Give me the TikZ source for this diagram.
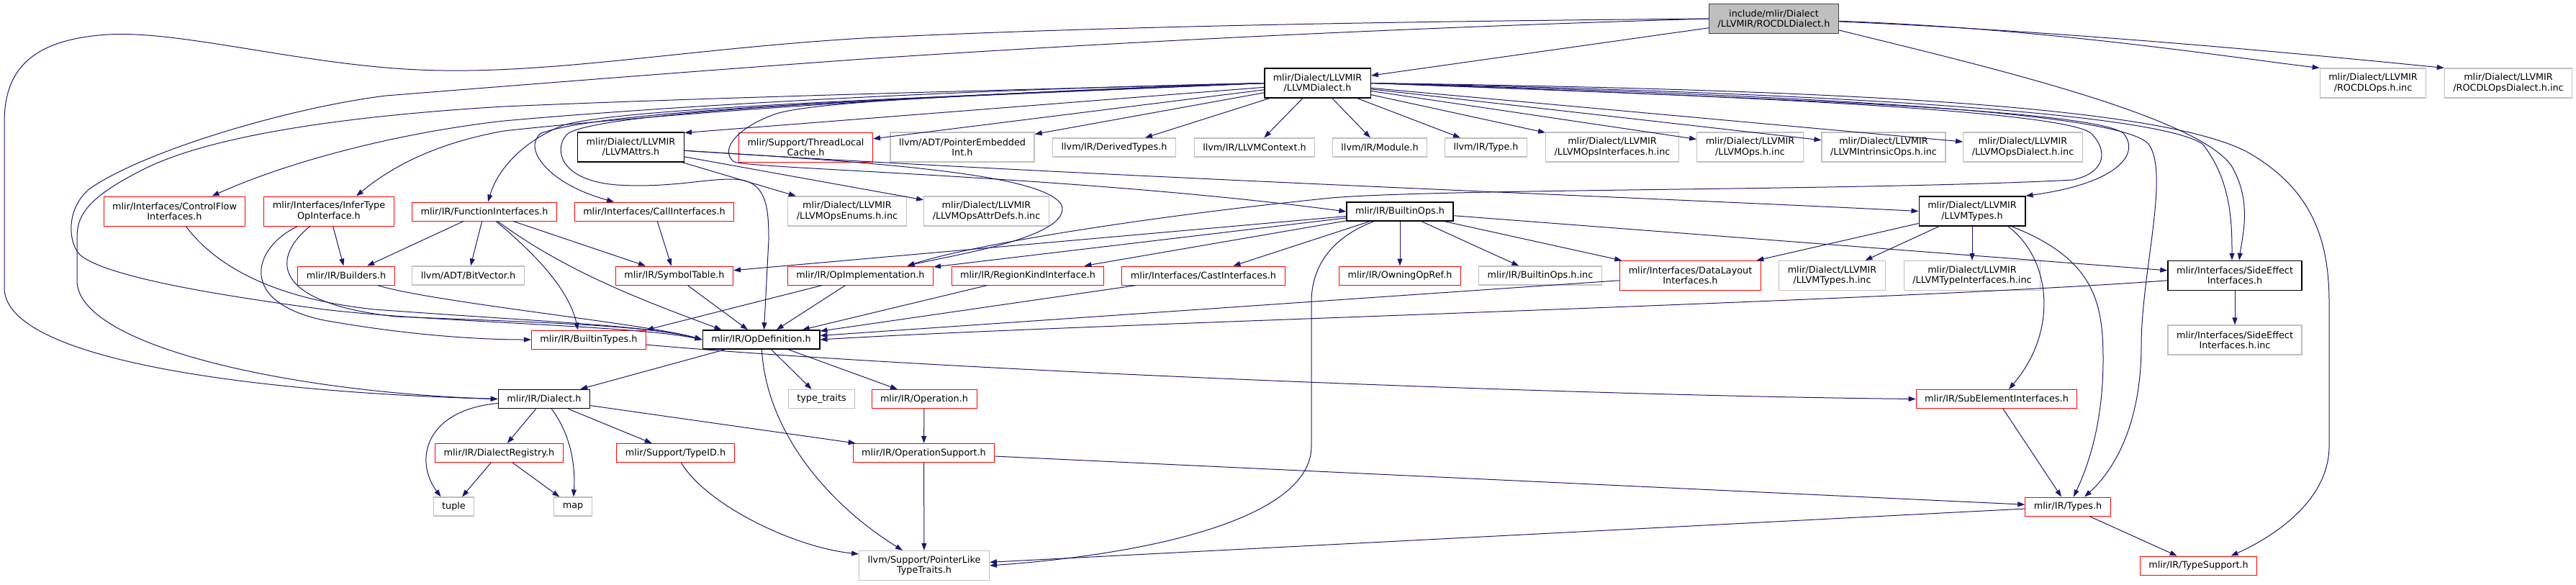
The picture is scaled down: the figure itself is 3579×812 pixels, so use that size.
\documentclass[tikz,border=0pt]{standalone}
\usepackage{fontspec}
\setmainfont{DejaVu Sans}
\usetikzlibrary{arrows.meta}
\definecolor{edgeblue}{HTML}{191970}
\definecolor{extgray}{HTML}{BFBFBF}
\definecolor{rootline}{HTML}{404040}

\begin{document}
\begin{tikzpicture}[x=1pt, y=-1pt, every node/.style={rectangle, draw, fill=white, align=center, inner xsep=12pt, inner ysep=0pt, minimum height=26pt, line width=1pt, font=\fontsize{12.8}{14.3}\selectfont},
	twoline/.style={minimum height=41pt},
	cutfile/.style={draw=red},
	extfile/.style={draw=extgray, line width=1.2pt},
	docfile/.style={draw=black, line width=1.5pt},
	rootfile/.style={fill=extgray, draw=rootline, line width=1.6pt},
	incl/.style={draw=edgeblue, line width=1pt, -{Triangle[length=10pt,width=7pt]}}]
			\useasboundingbox (0,0) rectangle (3579,812);
			
			\node[rootfile, twoline] (1) at (2464.5,26) {include/mlir/Dialect\\/LLVMIR/ROCDLDialect.h};
			\node[docfile, twoline] (2) at (1830.5,115.5) {mlir/Dialect/LLVMIR\\/LLVMDialect.h};
			\node[extfile, twoline] (3) at (3297,115.5) {mlir/Dialect/LLVMIR\\/ROCDLOps.h.inc};
			\node[extfile, twoline] (4) at (3485,115.5) {mlir/Dialect/LLVMIR\\/ROCDLOpsDialect.h.inc};
			\node[docfile, twoline] (5) at (876.5,204.5) {mlir/Dialect/LLVMIR\\/LLVMAttrs.h};
			\node[cutfile, twoline] (6) at (1119.5,204.5) {mlir/Support/ThreadLocal\\Cache.h};
			\node[extfile, twoline] (7) at (1337,204.5) {llvm/ADT/PointerEmbedded\\Int.h};
			\node[extfile] (8) at (1548,205) {llvm/IR/DerivedTypes.h};
			\node[extfile] (9) at (1743,205) {llvm/IR/LLVMContext.h};
			\node[extfile] (10) at (1917,205) {llvm/IR/Module.h};
			\node[extfile] (11) at (2064.5,205) {llvm/IR/Type.h};
			\node[extfile, twoline] (12) at (2240,204.5) {mlir/Dialect/LLVMIR\\/LLVMOpsInterfaces.h.inc};
			\node[extfile, twoline] (13) at (2431.5,204.5) {mlir/Dialect/LLVMIR\\/LLVMOps.h.inc};
			\node[extfile, twoline] (14) at (2617,204.5) {mlir/Dialect/LLVMIR\\/LLVMIntrinsicOps.h.inc};
			\node[extfile, twoline] (15) at (2810.5,204.5) {mlir/Dialect/LLVMIR\\/LLVMOpsDialect.h.inc};
			\node[cutfile, twoline] (16) at (242.5,293.5) {mlir/Interfaces/ControlFlow\\Interfaces.h};
			\node[cutfile, twoline] (17) at (457,293.5) {mlir/Interfaces/InferType\\OpInterface.h};
			\node[cutfile] (18) at (673,294) {mlir/IR/FunctionInterfaces.h};
			\node[cutfile] (19) at (909,294) {mlir/Interfaces/CallInterfaces.h};
			\node[extfile, twoline] (20) at (1177,293.5) {mlir/Dialect/LLVMIR\\/LLVMOpsEnums.h.inc};
			\node[extfile, twoline] (21) at (1370.5,293.5) {mlir/Dialect/LLVMIR\\/LLVMOpsAttrDefs.h.inc};
			\node[docfile] (22) at (1945,294) {mlir/IR/BuiltinOps.h};
			\node[docfile, twoline] (23) at (2740,293.5) {mlir/Dialect/LLVMIR\\/LLVMTypes.h};
			\node[cutfile] (24) at (481,383) {mlir/IR/Builders.h};
			\node[extfile] (25) at (650.5,383) {llvm/ADT/BitVector.h};
			\node[cutfile] (26) at (937,383) {mlir/IR/SymbolTable.h};
			\node[cutfile] (27) at (1195.5,383) {mlir/IR/OpImplementation.h};
			\node[cutfile] (28) at (1428,383) {mlir/IR/RegionKindInterface.h};
			\node[cutfile] (29) at (1672,383) {mlir/Interfaces/CastInterfaces.h};
			\node[cutfile] (30) at (1945,383) {mlir/IR/OwningOpRef.h};
			\node[extfile] (31) at (2140,383) {mlir/IR/BuiltinOps.h.inc};
			\node[cutfile, twoline] (32) at (2348.5,383) {mlir/Interfaces/DataLayout\\Interfaces.h};
			\node[extfile, twoline] (33) at (2545.5,383) {mlir/Dialect/LLVMIR\\/LLVMTypes.h.inc};
			\node[extfile, twoline] (34) at (2740,383) {mlir/Dialect/LLVMIR\\/LLVMTypeInterfaces.h.inc};
			\node[docfile, twoline] (35) at (3105,383) {mlir/Interfaces/SideEffect\\Interfaces.h};
			\node[cutfile] (36) at (818,472) {mlir/IR/BuiltinTypes.h};
			\node[docfile] (37) at (1057.5,472) {mlir/IR/OpDefinition.h};
			\node[extfile, twoline] (38) at (3105,472.5) {mlir/Interfaces/SideEffect\\Interfaces.h.inc};
			\node[docfile] (39) at (756,554.5) {mlir/IR/Dialect.h};
			\node[extfile] (40) at (1141.5,554.5) {type\_traits};
			\node[cutfile] (41) at (1284,554.5) {mlir/IR/Operation.h};
			\node[cutfile] (42) at (2774,554.5) {mlir/IR/SubElementInterfaces.h};
			\node[cutfile] (43) at (693.5,629.5) {mlir/IR/DialectRegistry.h};
			\node[cutfile] (44) at (938.5,629.5) {mlir/Support/TypeID.h};
			\node[cutfile] (45) at (1283.5,629.5) {mlir/IR/OperationSupport.h};
			\node[extfile] (46) at (630.5,704) {tuple};
			\node[extfile] (47) at (796,704) {map};
			\node[cutfile] (48) at (2873,704) {mlir/IR/Types.h};
			\node[extfile, twoline] (49) at (1284,786) {llvm/Support/PointerLike\\TypeTraits.h};
			\node[cutfile] (50) at (3054.5,786) {mlir/IR/TypeSupport.h};
			
			% ROCDLDialect.h
			\draw[incl] (1) -- (2);
			\draw[incl] (1) .. controls (2850,40) and (3100,80) .. (3.north west);
			\draw[incl] (1) .. controls (2900,45) and (3250,80) .. (4.north west);
			\draw[incl] (1.-10) .. controls (2750,90) and (3050,160) .. (3100,230) .. controls (3130,280) and (3115,330) .. ([xshift=6pt]35.north);
			\draw[incl] (1.west) .. controls (1900,30) and (1500,38) .. (1200,53) .. controls (950,68) and (760,105) .. (582,97) .. controls (420,90) and (250,42) .. (150,48) .. controls (40,55) and (6,100) .. (6,170) -- (6,400) .. controls (6,500) and (350,545) .. (39.west);
			\draw[incl] (1.west) .. controls (1900,40) and (1500,62) .. (1200,82) .. controls (950,100) and (700,120) .. (536,133) .. controls (400,150) and (200,210) .. (125,262) .. controls (90,290) and (95,340) .. (112,355) .. controls (150,385) and (300,410) .. (450,430) .. controls (600,448) and (880,452) .. (37.west);
			
			% LLVMDialect.h
			\draw[incl] (2) -- (5.15);
			\draw[incl] (2) -- (6);
			\draw[incl] (2) -- (7);
			\draw[incl] (2) -- (8);
			\draw[incl] (2) -- (9);
			\draw[incl] (2) -- (10);
			\draw[incl] (2) -- (11);
			\draw[incl] (2) -- (12);
			\draw[incl] (2) -- (13);
			\draw[incl] (2) -- (14);
			\draw[incl] (2) -- (15);
			\draw[incl] (2.west) .. controls (1300,125) and (900,150) .. (700,168) .. controls (550,185) and (400,225) .. ([xshift=52pt]16.north);
			\draw[incl] (2.west) .. controls (1300,130) and (900,160) .. (700,182) .. controls (600,200) and (540,235) .. ([xshift=38pt]17.north);
			\draw[incl] (2.west) .. controls (1300,135) and (850,150) .. (780,175) .. controls (720,200) and (690,240) .. ([xshift=5pt]18.north);
			\draw[incl] (2.west) .. controls (1300,136) and (850,150) .. (752,185) .. controls (725,205) and (760,255) .. ([xshift=-56pt]19.north);
			\draw[incl] (2.west) .. controls (1400,130) and (1120,140) .. (1073,160) .. controls (1020,180) and (1000,210) .. (1020,225) .. controls (1050,235) and (1500,245) .. (22.west);
			\draw[incl] (2.west) .. controls (1400,130) and (850,150) .. (790,185) .. controls (770,200) and (770,250) .. (857,257) .. controls (940,262) and (990,245) .. (1030,250) .. controls (1065,256) and (1068,290) .. (1068,333) -- ([xshift=4pt]37.north);
			\draw[incl] (2.west) .. controls (1400,125) and (1000,135) .. (700,148) .. controls (500,160) and (300,185) .. (200,235) .. controls (120,275) and (107,300) .. (107,330) -- (107,390) .. controls (107,480) and (400,545) .. (39.west);
			\draw[incl] (2.east) .. controls (2300,130) and (2860,150) .. (2905,185) .. controls (2930,210) and (2925,240) .. (2880,250) .. controls (2600,265) and (2000,262) .. (1850,275) .. controls (1600,300) and (1350,340) .. ([xshift=65pt]27.north);
			\draw[incl] (2.east) .. controls (2400,135) and (2900,150) .. (2950,185) .. controls (2975,215) and (2940,255) .. (23.north east);
			\draw[incl] (2.east) .. controls (2600,130) and (3000,160) .. (3060,200) .. controls (3100,250) and (3101,310) .. ([xshift=-4pt]35.north);
			\draw[incl] (2.east) .. controls (2400,130) and (2940,150) .. (2985,200) .. controls (3015,240) and (2975,380) .. (2975,480) .. controls (2975,600) and (2930,660) .. ([xshift=23pt]48.north);
			\draw[incl] (2.east) .. controls (2600,125) and (3000,150) .. (3120,210) .. controls (3210,260) and (3236,330) .. (3236,420) -- (3236,620) .. controls (3236,700) and (3150,750) .. ([xshift=45pt]50.north);
			
			% LLVMAttrs.h
			\draw[incl] (5) -- (20);
			\draw[incl] (5) -- (21);
			\draw[incl] (5) .. controls (1200,225) and (1450,240) .. (1475,285) .. controls (1490,330) and (1320,355) .. ([xshift=65pt]27.north);
			\draw[incl] (5) .. controls (1500,245) and (2300,275) .. (23.west);
			
			% interfaces
			\draw[incl] (16) .. controls (300,370) and (380,415) .. (520,430) .. controls (750,447) and (900,452) .. (37.west);
			\draw[incl] (17) -- (24);
			\draw[incl] (17) .. controls (350,345) and (330,420) .. (450,445) .. controls (550,463) and (650,472) .. (36.west);
			\draw[incl] (17) .. controls (380,355) and (370,420) .. (550,440) .. controls (750,448) and (900,452) .. (37.west);
			\draw[incl] (18) -- (24);
			\draw[incl] (18) -- (25);
			\draw[incl] (18) -- (26);
			\draw[incl] (18) .. controls (740,350) and (790,400) .. ([xshift=-15pt]36.north);
			\draw[incl] (18) .. controls (790,380) and (900,420) .. ([xshift=-55pt]37.north);
			\draw[incl] (19) -- (26);
			
			% BuiltinOps.h
			\draw[incl] (22) -- (26);
			\draw[incl] (22) -- (27);
			\draw[incl] (22) -- (28);
			\draw[incl] (22) -- (29);
			\draw[incl] (22) -- (30);
			\draw[incl] (22) -- (31);
			\draw[incl] (22) -- (32);
			\draw[incl] (22) -- (35);
			\draw[incl] (22) .. controls (1850,330) and (1822,370) .. (1822,420) -- (1822,620) .. controls (1822,720) and (1600,770) .. (49.east);
			
			% LLVMTypes.h
			\draw[incl] (23) -- (32);
			\draw[incl] (23) -- (33);
			\draw[incl] (23) -- (34);
			\draw[incl] ([xshift=50pt]23.south) .. controls (2850,360) and (2860,460) .. ([xshift=17pt]42.north);
			\draw[incl] ([xshift=55pt]23.south) .. controls (2910,360) and (2922,420) .. (2922,500) .. controls (2922,600) and (2895,660) .. ([xshift=8pt]48.north);
			
			% into OpDefinition.h
			\draw[incl] (24) .. controls (600,420) and (900,450) .. (37.west);
			\draw[incl] (26) -- (37);
			\draw[incl] (27) -- (37);
			\draw[incl] (27) -- (36.north east);
			\draw[incl] (28) -- (37);
			\draw[incl] (29) -- (37);
			\draw[incl] (32) -- (37);
			\draw[incl] (35) .. controls (2600,420) and (1500,450) .. (37.east);
			\draw[incl] (35) -- (38);
			\draw[incl] (36) .. controls (1300,515) and (2200,550) .. (42.west);
			
			% OpDefinition.h
			\draw[incl] (37) -- (39);
			\draw[incl] (37) -- (40);
			\draw[incl] (37) -- (41);
			\draw[incl] (37) .. controls (1065,600) and (1150,700) .. ([xshift=-30pt]49.north);
			
			% Dialect.h
			\draw[incl] (39) .. controls (590,570) and (575,640) .. ([xshift=-18pt]46.north);
			\draw[incl] (39) -- (43);
			\draw[incl] (39) .. controls (790,600) and (800,640) .. (47);
			\draw[incl] (39) -- (44);
			\draw[incl] (39) -- (45);
			\draw[incl] (43) -- (46);
			\draw[incl] (43) -- (47);
			\draw[incl] (44) .. controls (980,700) and (1100,760) .. (49.170);
			\draw[incl] (41) -- (45);
			\draw[incl] (45) -- (49);
			\draw[incl] (45) -- (48);
			\draw[incl] (42) -- (48);
			\draw[incl] (48) -- (50);
			\draw[incl] (48) -- (49);
		\end{tikzpicture}
\end{document}
